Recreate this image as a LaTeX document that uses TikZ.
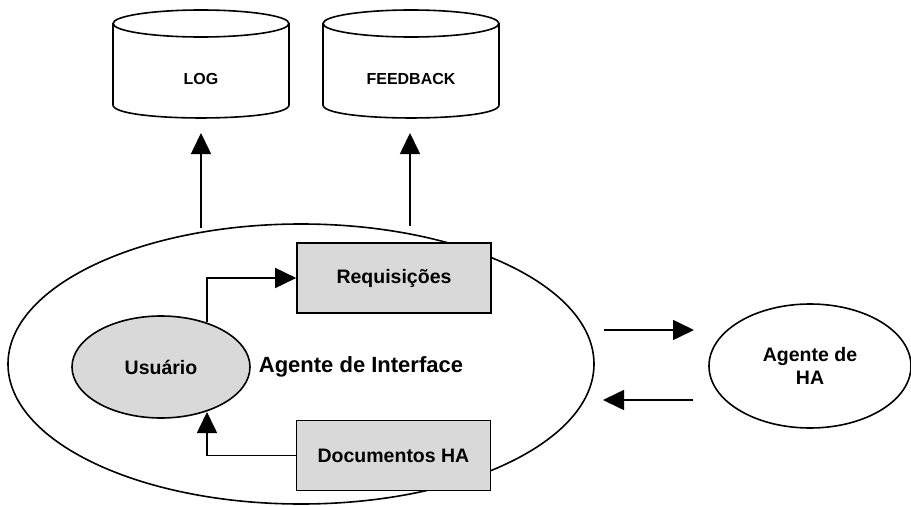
\documentclass[tikz,border=0pt]{standalone}
\usepackage{fontspec}
\setmainfont{Liberation Sans}
\usetikzlibrary{shapes.geometric,arrows.meta}
\begin{document}
\begin{tikzpicture}[x=1pt,y=-1pt,
  line width=1.6pt,
  lbl/.style={font=\bfseries\fontsize{19.5}{23}\selectfont},
  storelbl/.style={font=\bfseries\fontsize{16}{19}\selectfont},
  tip/.style={-{Triangle[length=21pt,width=20pt]}},
  lid/.style={draw,fill=white,ellipse,minimum width=176pt,minimum height=27pt,inner sep=0pt},
  box/.style={draw,fill=boxgray,minimum width=194pt,minimum height=70pt,inner sep=0pt,lbl}]
\definecolor{boxgray}{HTML}{D9D9D9}
\useasboundingbox (0,0) rectangle (911,506);

% data stores: drum body, then its lid
\draw[fill=white] (113,23.5) -- (113,105)
  .. controls (113,122.3) and (289,122.3) .. (289,105) -- (289,23.5);
\node[lid] (loglid) at (201,23.5) {};
\draw[fill=white] (323,23.5) -- (323,105)
  .. controls (323,122.3) and (499,122.3) .. (499,105) -- (499,23.5);
\node[lid] (fblid) at (411,23.5) {};
\node[storelbl] (log) at (201,79) {LOG};
\node[storelbl] (fb) at (411,79) {FEEDBACK};

% interface agent
\node[draw,ellipse,minimum width=586pt,minimum height=280pt,inner sep=0pt] (ai) at (301,364) {};
\node[font=\bfseries\fontsize{22}{26}\selectfont] (ailbl) at (361,367) {Agente de Interface};
\node[draw,ellipse,fill=boxgray,minimum width=178pt,minimum height=102pt,inner sep=0pt,lbl] (usr) at (161,367) {Usuário};
\node[box] (req) at (394,278) {Requisições};
\node[box] (doc) at (393.5,455.5) {Documentos HA};

% HA agent
\node[draw,ellipse,minimum width=202pt,minimum height=124pt,inner sep=0pt,lbl,align=center] (ha) at (810,366) {Agente de\\HA};

% connectors
\coordinate (usrtop) at (207,322);
\coordinate (usrbot) at (207,412);
\draw[tip] (usrtop) |- (req.west);
\draw[tip] (doc.west) -| (usrbot);
\coordinate (logfoot) at (201,133);
\coordinate (fbfoot) at (410,133);
\coordinate (aitopl) at (201,228);
\coordinate (aitopr) at (410,226);
\draw[tip] (aitopl) -- (logfoot);
\draw[tip] (aitopr) -- (fbfoot);
\coordinate (a1) at (604,330);
\coordinate (a2) at (694,330);
\coordinate (b1) at (693,400);
\coordinate (b2) at (603,400);
\draw[tip] (a1) -- (a2);
\draw[tip] (b1) -- (b2);
\end{tikzpicture}
\end{document}
